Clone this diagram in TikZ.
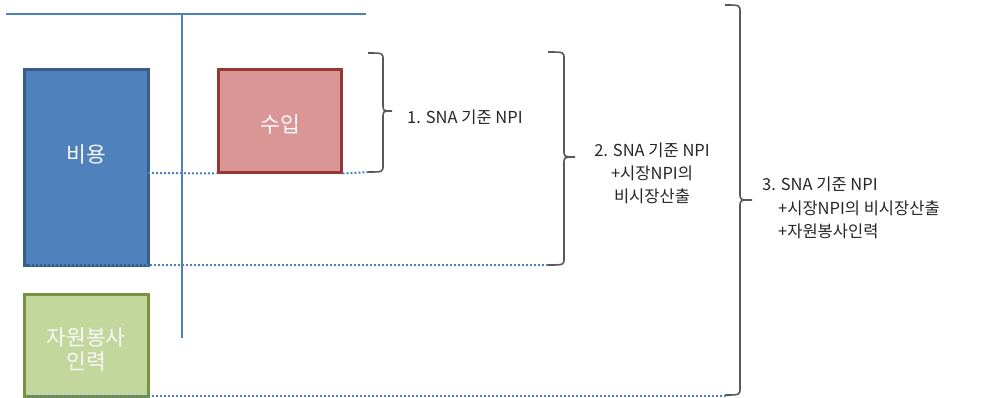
\documentclass[tikz,border=0pt]{standalone}
\usepackage{fontspec}
\setmainfont{Noto Sans CJK KR}
\definecolor{axisblue}{HTML}{4F81BD}
\definecolor{bfill}{HTML}{4F81BD}
\definecolor{bdraw}{HTML}{385D8A}
\definecolor{rfill}{HTML}{D99694}
\definecolor{rdraw}{HTML}{953735}
\definecolor{gfill}{HTML}{C3D69B}
\definecolor{gdraw}{HTML}{77933C}
\definecolor{bracecol}{HTML}{595959}
\definecolor{txt}{HTML}{262626}
\newcommand{\mybrace}[6]{%
  \draw[bracestyle] (#1,#4) .. controls (#2,#4) .. (#2,#4+7) -- (#2,#5-7)
    .. controls (#2,#5) .. (#3,#5) .. controls (#2,#5) .. (#2,#5+7)
    -- (#2,#6-7) .. controls (#2,#6) .. (#1,#6);}
\begin{document}
\begin{tikzpicture}[x=1pt,y=-1pt,
  box/.style={draw, line width=3pt, inner sep=0pt},
  boxtext/.style={text=white!95!gray, font=\fontsize{21.5}{27}\selectfont, align=center, inner sep=0pt},
  dotline/.style={axisblue, line width=2pt, dash pattern=on 2pt off 2pt},
  axis/.style={axisblue, line width=2pt},
  bracestyle/.style={bracecol, line width=1.6pt},
  lab/.style={text=txt, font=\fontsize{16.5}{23}\selectfont, inner sep=0pt}]
\useasboundingbox (0,0) rectangle (981,398);
% axes
\coordinate (hl) at (6,14);
\coordinate (hr) at (366,14);
\coordinate (vt) at (182,14);
\coordinate (vb) at (182,338);
\draw[axis] (hl) -- (hr);
\draw[axis] (vt) -- (vb);
% boxes
\node[box, fill=bfill, draw=bdraw, minimum width=124pt, minimum height=195pt] (cost) at (86,167.5) {};
\node[boxtext] (costt) at (86,154) {비용};
\node[box, fill=rfill, draw=rdraw, minimum width=123pt, minimum height=102pt] (inc) at (279.5,121) {};
\node[boxtext] (inct) at (280,124) {수입};
\node[box, fill=gfill, draw=gdraw, minimum width=124pt, minimum height=102pt] (vol) at (86,345) {};
\node[boxtext] (volt) at (86,349) {자원봉사\\[-3pt]인력};
% braces
\mybrace{368}{383}{392}{53}{111}{172}
\mybrace{548}{564}{575}{52}{157}{265}
\mybrace{725}{740}{752}{5}{200}{395}
% dotted lines
\coordinate (d1a) at (32,172);
\coordinate (d1b) at (370,172);
\coordinate (d2a) at (30,265);
\coordinate (d2b) at (550,265);
\coordinate (d3a) at (28,396);
\coordinate (d3b) at (727,396);
\draw[dotline] (d1a) -- (inc.south west);
\draw[dotline] (inc.south east) -- (d1b);
\draw[dotline] (d2a) -- (d2b);
\draw[dotline] (d3a) -- (d3b);
% labels
\node[lab, anchor=west] (t1) at (407,117) {1. SNA 기준 NPI};
\node[lab, align=center] (t2) at (652,173) {2. SNA 기준 NPI\\+시장NPI의\\비시장산출};
\node[lab, anchor=west] (t3a) at (762,184) {3. SNA 기준 NPI};
\node[lab, anchor=west] (t3b) at (778,208) {+시장NPI의 비시장산출};
\node[lab, anchor=west] (t3c) at (778,231) {+자원봉사인력};
\end{tikzpicture}
\end{document}
